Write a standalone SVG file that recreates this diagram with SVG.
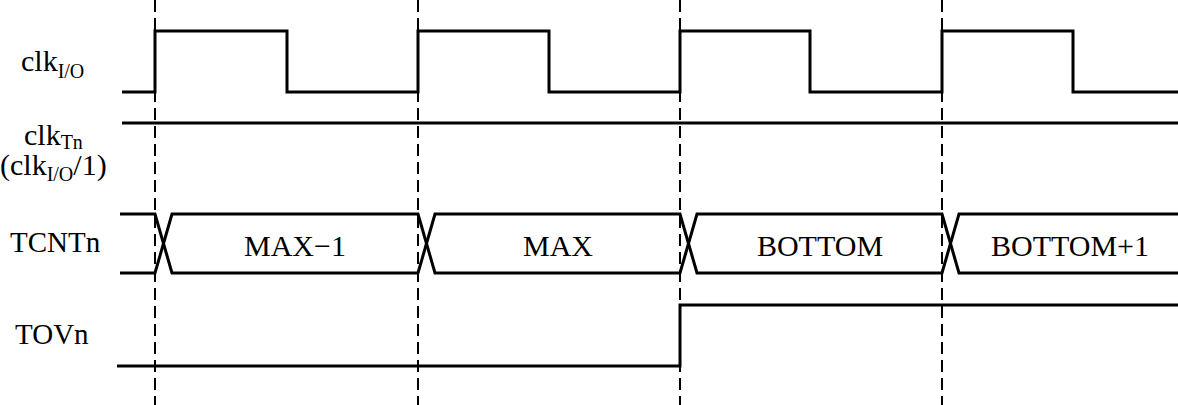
<svg xmlns="http://www.w3.org/2000/svg" width="1178" height="405" viewBox="0 0 1178 405">
<style>
.w{fill:none;stroke:#000;stroke-width:3;stroke-linejoin:miter}
.d{fill:none;stroke:#000;stroke-width:2;stroke-dasharray:12 6}
text{font-family:"Liberation Serif","Times New Roman",serif;fill:#000}
.l{font-size:29px}
.c{font-size:30px}
.s{font-size:20px}
.b{font-size:30px;text-anchor:middle}
</style>
<rect width="1178" height="405" fill="#fff"/>
<g id="grid">
<line class="d" x1="155" y1="0" x2="155" y2="405"/>
<line class="d" x1="418" y1="0" x2="418" y2="405"/>
<line class="d" x1="680" y1="0" x2="680" y2="405"/>
<line class="d" x1="942" y1="0" x2="942" y2="405"/>
</g>
<g id="labels">
<text class="c" x="21" y="71">clk<tspan class="s" dy="7">I/O</tspan></text>
<text class="c" x="24" y="145">clk<tspan class="s" dy="4">Tn</tspan></text>
<text class="c" x="0" y="175">(clk<tspan class="s" dy="6">I/O</tspan><tspan dy="-6">/1)</tspan></text>
<text class="l" x="10" y="252">TCNTn</text>
<text class="l" x="15" y="344">TOVn</text>
</g>
<g id="clkIO">
<polyline class="w" points="122,92 155,92 155,31 287,31 287,92 418,92 418,31 549,31 549,92 680,92 680,31 810,31 810,92 942,92 942,31 1073,31 1073,92 1178,92"/>
</g>
<g id="clkTn">
<line class="w" x1="122" y1="123" x2="1178" y2="123"/>
</g>
<g id="TCNTn">
<polyline class="w" points="120,214 155,214 172,273 418,273 435,214 680,214 697,273 942,273 959,214 1178,214"/>
<polyline class="w" points="120,273 155,273 172,214 418,214 435,273 680,273 697,214 942,214 959,273 1178,273"/>
<text class="b" x="295" y="256">MAX−1</text>
<text class="b" x="558" y="256">MAX</text>
<text class="b" x="820" y="256">BOTTOM</text>
<text class="b" x="1070" y="256">BOTTOM+1</text>
</g>
<g id="TOVn">
<polyline class="w" points="117,366 680,366 680,305 1178,305"/>
</g>
</svg>
